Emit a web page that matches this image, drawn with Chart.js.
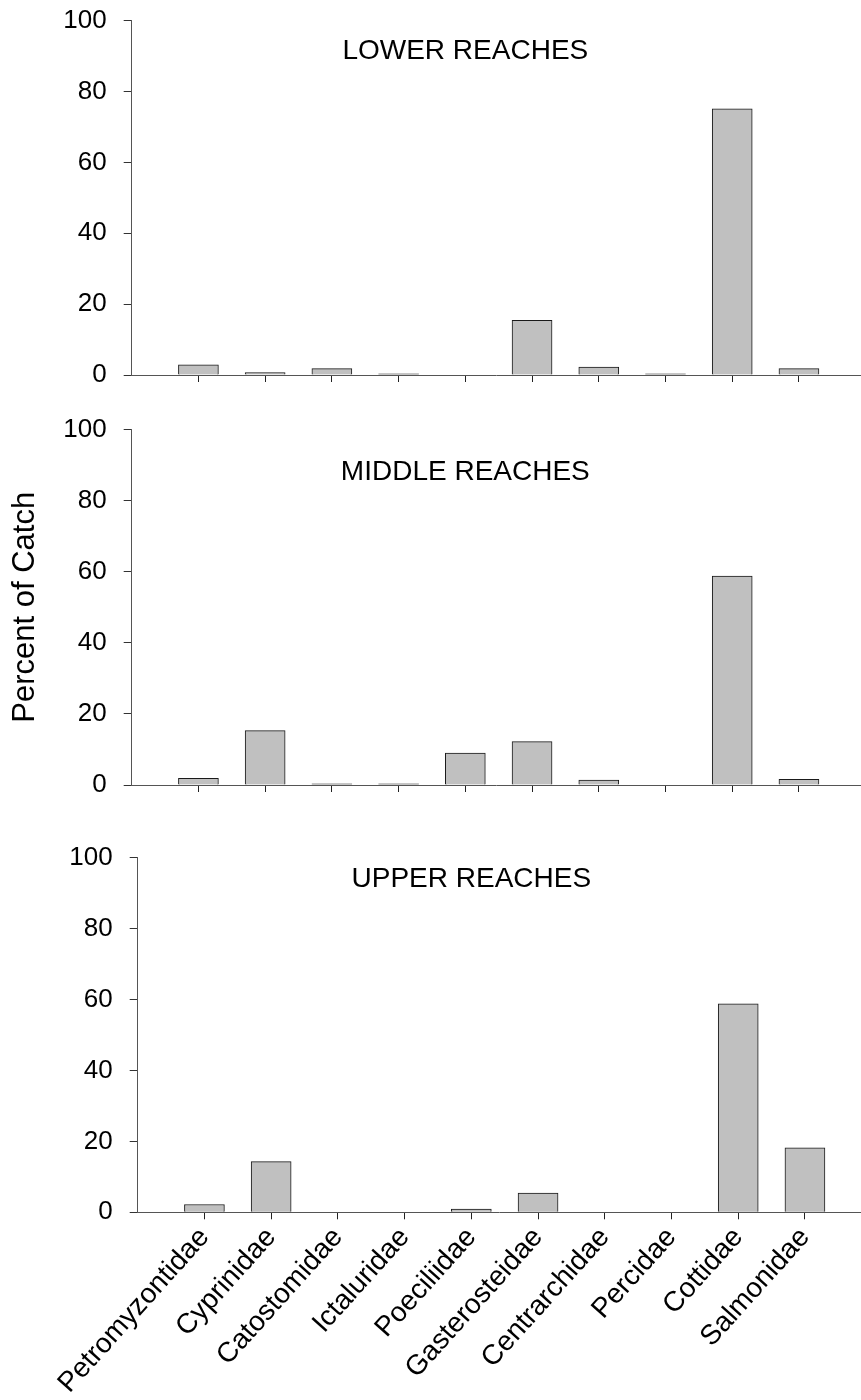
<!DOCTYPE html>
<html>
<head>
<meta charset="utf-8">
<script src="https://cdn.jsdelivr.net/npm/chart.js@4/dist/chart.umd.min.js"></script>
<style>
  html, body { margin: 0; padding: 0; background: #fff; width: 861px; height: 1400px; overflow: hidden; position: relative; }
  canvas { position: absolute; left: 0; }
  #c1 { top: -12px; }
  #c2 { top: 397px; }
  #c3 { top: 825px; }
</style>
</head>
<body>
<canvas id="c1" width="861" height="427"></canvas>
<canvas id="c2" width="861" height="428"></canvas>
<canvas id="c3" width="861" height="575"></canvas>
<script>
// ---- data ----
const categories = ['Petromyzontidae', 'Cyprinidae', 'Catostomidae', 'Ictaluridae', 'Poeciliidae',
                    'Gasterosteidae', 'Centrarchidae', 'Percidae', 'Cottidae', 'Salmonidae'];
const lowerReaches  = [2.9, 0.7, 1.8, 0.3, 0, 15.4, 2.2, 0.3, 75.1, 1.8];
const middleReaches = [1.9, 15.3, 0.3, 0.3, 9.0, 12.2, 1.4, 0, 58.8, 1.6];
const upperReaches  = [2.2, 14.3, 0, 0, 0.9, 5.4, 0, 0, 58.8, 18.2];
const yTicks = [0, 20, 40, 60, 80, 100];
const panelTitles = ['LOWER REACHES', 'MIDDLE REACHES', 'UPPER REACHES'];
const yAxisTitle = 'Percent of Catch';

Chart.defaults.font.family = "'Liberation Sans', Arial, Helvetica, sans-serif";
Chart.defaults.color = '#000';

const panelTitlePlugin = {
  id: 'panelTitle',
  afterDraw(chart, args, opts) {
    const ctx = chart.ctx;
    ctx.save();
    ctx.font = "28px 'Liberation Sans', Arial, sans-serif";
    ctx.fillStyle = '#000';
    ctx.textAlign = 'center';
    ctx.textBaseline = 'alphabetic';
    ctx.fillText(opts.text, chart.scales.x.getPixelForValue(opts.x), chart.scales.y.getPixelForValue(opts.y));
    ctx.restore();
  }
};

function makePanel(id, values, cfg) {
  const axisColor = '#555';
  new Chart(document.getElementById(id), {
    type: 'bar',
    data: {
      datasets: [{
        data: values.map((v, i) => ({ x: i + 1, y: v })),
        backgroundColor: '#c0c0c0',
        borderColor: '#1a1a1a',
        borderWidth: 1,
        barThickness: 40
      }]
    },
    plugins: [panelTitlePlugin],
    options: {
      responsive: false,
      animation: false,
      devicePixelRatio: 1,
      layout: { padding: { top: cfg.padTop, left: 0, right: 0, bottom: 0 } },
      plugins: {
        legend: { display: false },
        tooltip: { enabled: false },
        panelTitle: { text: cfg.title, x: 5, y: cfg.titleY }
      },
      scales: {
        x: {
          type: 'linear',
          min: 0,
          max: cfg.xMax,
          offset: false,
          grid: { display: true, offset: false, drawOnChartArea: false, drawTicks: true, tickLength: 7, color: axisColor, tickColor: '#222' },
          border: { display: true, color: axisColor, width: 1 },
          ticks: {
            display: cfg.showLabels,
            stepSize: 1,
            autoSkip: false,
            maxRotation: 48,
            minRotation: 48,
            padding: 2,
            font: { size: 28 },
            color: '#000',
            callback: (v) => (v >= 1 && v <= categories.length) ? categories[v - 1] : ''
          },
          afterBuildTicks: (s) => { s.ticks = s.ticks.filter(t => t.value >= 1 && t.value <= categories.length); },
          afterFit: (s) => { s.height = cfg.xHeight; }
        },
        y: {
          min: 0,
          max: 100,
          grid: { display: true, drawOnChartArea: false, drawTicks: true, tickLength: 8, color: axisColor, tickColor: '#333' },
          border: { display: true, color: axisColor, width: 1 },
          afterBuildTicks: (s) => { s.ticks = yTicks.map(v => ({ value: v })); },
          ticks: { padding: 17, font: { size: 26 }, color: '#000' },
          title: {
            display: cfg.showYTitle,
            text: yAxisTitle,
            font: { size: 31 },
            color: '#000',
            padding: { top: 7, bottom: 0 }
          },
          afterFit: (s) => { s.width = cfg.yWidth; }
        }
      }
    }
  });
}

makePanel('c1', lowerReaches,  { title: panelTitles[0], titleY: 89.2, padTop: 32,   xHeight: 40,    yWidth: 131.7, xMax: 10.93, showLabels: false, showYTitle: false });
makePanel('c2', middleReaches, { title: panelTitles[1], titleY: 85.9, padTop: 32,   xHeight: 40,    yWidth: 131.7, xMax: 10.93, showLabels: false, showYTitle: true });
makePanel('c3', upperReaches,  { title: panelTitles[2], titleY: 91.6, padTop: 31.7, xHeight: 187.7, yWidth: 137.7, xMax: 10.84, showLabels: true,  showYTitle: false });
</script>
</body>
</html>
